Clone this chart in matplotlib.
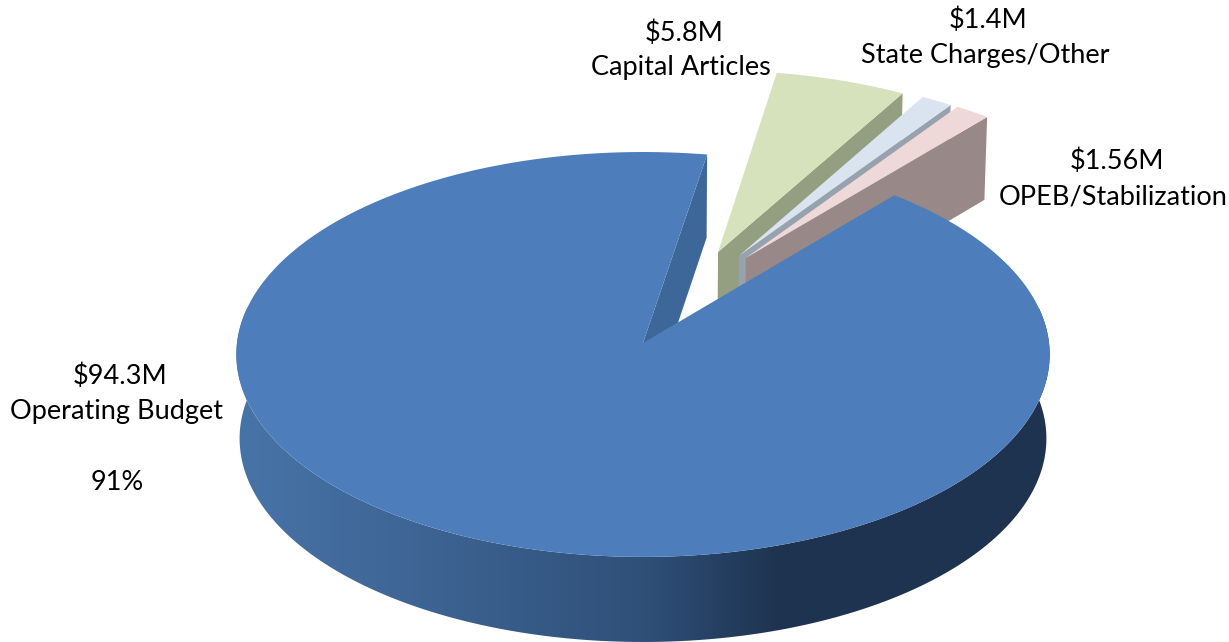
import numpy as np
import matplotlib
matplotlib.use("Agg")
import matplotlib.pyplot as plt
from matplotlib.colors import LinearSegmentedColormap
from matplotlib.patches import Polygon

plt.rcParams['font.family'] = ['Lato', 'DejaVu Sans']

# budget pieces in $M, in drawing order (clockwise)
categories = ["Operating Budget", "Capital Articles", "State Charges/Other", "OPEB/Stabilization"]
values = [94.3, 5.8, 1.4, 1.56]
value_labels = ["$94.3M", "$5.8M", "$1.4M", "$1.56M"]
share_label = "91%"

top_colors = ["#4d7ebb", "#d6e2bb", "#dae4f0", "#eed9d8"]
wall_colors = ["#3e6799", "#939f80", "#96a2ad", "#988988"]

# pie placement on the canvas and perspective settings
cx, cy = 643, 343
rx, ry = 406, 201.8
persp = 0.0566
depth = 84
floor_sx, floor_sy = 0.992, 1.005
start_angle = 40.2  # clockwise from north
explode = [0, 0.5, 0.504, 0.504]
explode_dir = [0, 22.3, 28.7, 31.0]


def world(theta):
    t = np.radians(theta)
    return np.sin(t), np.cos(t)


def project(x, y, floor=False):
    w = 1 + persp * y
    sx, sy = (floor_sx, floor_sy) if floor else (1, 1)
    return cx + sx * rx * x / w, cy + (depth if floor else 0) - sy * ry * y / w


def sector(a0, a1, ox, oy, floor=False):
    # apex followed by the rim, as canvas points
    th = np.linspace(a0, a1, 300)
    xs, ys = world(th)
    xs = np.r_[0, xs] + ox
    ys = np.r_[0, ys] + oy
    return np.column_stack(project(xs, ys, floor))


def edge_wall(a, ox, oy):
    # flat cut face of a slice running from the apex to the rim
    x, y = world(a)
    pts = [project(ox, oy), project(ox + x, oy + y),
           project(ox + x, oy + y, True), project(ox, oy, True)]
    return pts


def rim_wall(a0, a1):
    th = np.linspace(a0, a1, 400)
    xs, ys = world(th)
    upper = np.column_stack(project(xs, ys))
    lower = np.column_stack(project(xs, ys, True))
    return np.vstack([upper, lower[::-1]])


fig = plt.figure(figsize=(12.29, 6.42), dpi=100)
ax = fig.add_axes([0, 0, 1, 1])
ax.axis("off")

spans = 360 * np.array(values) / sum(values)
ends = start_angle + np.cumsum(spans)
starts = ends - spans

# small slices first, back to front, so each one overlaps its neighbour
for i in range(1, 4):
    t = np.radians(explode_dir[i])
    ox, oy = explode[i] * np.sin(t), explode[i] * np.cos(t)
    a0, a1 = starts[i] % 360, ends[i] % 360
    ax.add_patch(Polygon(edge_wall(a1, ox, oy), closed=True, fc=wall_colors[i], lw=0, zorder=2 + i))
    ax.add_patch(Polygon(sector(a0, a1, ox, oy), closed=True, fc=top_colors[i], lw=0, zorder=2 + i))

# inner cut face of the big slice, the part seen through the gap
ax.add_patch(Polygon(edge_wall(ends[0] % 360, 0, 0), closed=True, fc=wall_colors[0], lw=0, zorder=6))

# outer wall shaded from left to right
shade = LinearSegmentedColormap.from_list("wall", [
    (0.0, "#4774a8"), (0.2, "#3f6696"), (0.5, "#2f5079"),
    (0.67, "#1e3350"), (1.0, "#1e3350")])
grad = np.linspace(0, 1, 512).reshape(1, -1)
im = ax.imshow(grad, cmap=shade, extent=(236, 1050, 642, 0), aspect="auto", zorder=7)
wall_clip = Polygon(rim_wall(80, 280), closed=True, transform=ax.transData)
im.set_clip_path(wall_clip)

ax.add_patch(Polygon(sector(starts[0], ends[0], 0, 0), closed=True, fc=top_colors[0], lw=0, zorder=8))

ax.set_xlim(0, 1229)
ax.set_ylim(642, 0)

# labels
font = 19.5
ax.text(120, 376, value_labels[0], ha="center", va="center", fontsize=font)
ax.text(117, 412, categories[0], ha="center", va="center", fontsize=font)
ax.text(117, 483, share_label, ha="center", va="center", fontsize=font)
ax.text(684, 33, value_labels[1], ha="center", va="center", fontsize=font)
ax.text(681, 68, categories[1], ha="center", va="center", fontsize=font)
ax.text(988, 20, value_labels[2], ha="center", va="center", fontsize=font)
ax.text(985, 56, categories[2], ha="center", va="center", fontsize=font)
ax.text(1117, 161, value_labels[3], ha="center", va="center", fontsize=font)
ax.text(1113, 197, categories[3], ha="center", va="center", fontsize=font)

fig.savefig("out.png", dpi=100)
